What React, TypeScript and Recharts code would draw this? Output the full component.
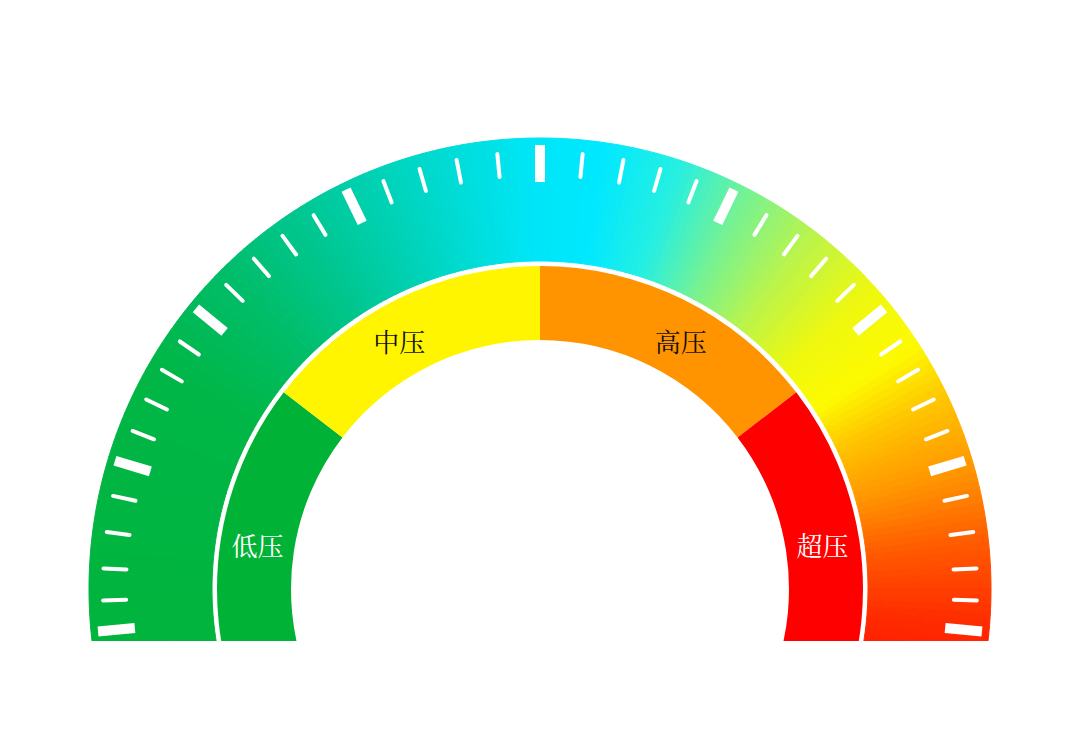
import { PieChart, Pie, Cell, RadialBarChart, RadialBar, PolarAngleAxis } from 'recharts';

const W = 1080;
const H = 750;
const CX = 540;
const CY = 589;
const CLIP_Y = 641; // the gauge is cut flat a little below its centre

// outer ring colour stops (degrees, 0 = 3 o'clock, counter-clockwise)
const stopAngles = [200, 150, 135, 120, 105, 92, 82, 72, 62, 52, 42, 33, 25, 15, 5, -5, -20];
const stopColors = [
  '#00b33a', '#00b646', '#00bd68', '#00c99a', '#00d8cc', '#00e5f5', '#00e8ff', '#25efe2',
  '#78f290', '#bdf448', '#eef80e', '#fdfa00', '#ffc400', '#ff9200', '#ff5500', '#ff2a00', '#ff0a00',
];

// inner ring zones, spans in degrees starting from 200°
const zoneNames = ['低压', '中压', '高压', '超压'];
const zoneSpans = [57.5, 52.5, 52.5, 57.5];
const zoneColors = ['#00b336', '#fff500', '#ff9400', '#ff0000'];
const zoneTextColors = ['#ffffff', '#111111', '#111111', '#ffffff'];
const zoneLabelAngles = [171, 119.5, 60.5, 9];

const majorTicks = [185.5, 163.2, 140.8, 115.9, 90, 64.1, 39.2, 16.8, -5.5];
const minorTicks = [
  181.5, 177.3, 172.5, 167.7, 158.8, 154.3, 149.9, 145.5, 135.9, 130.9, 126.1, 121.2,
  111, 106, 101, 95.6, 84.4, 79, 74, 69, 58.8, 53.9, 49.1, 44.1,
  34.5, 30.1, 25.7, 21.2, 12.3, 7.5, 2.7, -1.5,
];
const allTicks = [...majorTicks, ...minorTicks];

const hex = (c: string) => [1, 3, 5].map((i) => parseInt(c.slice(i, i + 2), 16));
const colorAt = (a: number) => {
  let i = 0;
  while (i < stopAngles.length - 2 && a < stopAngles[i + 1]) i++;
  const t = (stopAngles[i] - a) / (stopAngles[i] - stopAngles[i + 1]);
  const c0 = hex(stopColors[i]);
  const c1 = hex(stopColors[i + 1]);
  const m = c0.map((v, k) => Math.round(v + (c1[k] - v) * t));
  return `rgb(${m[0]},${m[1]},${m[2]})`;
};

// thin slices that paint the angular gradient of the outer ring
const STEP = 1;
const ringSlices = Array.from({ length: (200 + 20) / STEP }, (_, i) => ({
  span: STEP,
  color: colorAt(200 - STEP * i - STEP / 2),
}));

const zones = zoneNames.map((name, i) => ({ name, span: zoneSpans[i] }));

const RAD = Math.PI / 180;

const renderZoneLabel = (p: any) => {
  const a = zoneLabelAngles[p.index] * RAD;
  const r = (p.innerRadius + p.outerRadius) / 2;
  return (
    <text
      x={p.cx + r * Math.cos(a)}
      y={p.cy - r * Math.sin(a)}
      fill={zoneTextColors[p.index]}
      fontSize={26}
      fontFamily='"Noto Serif CJK SC", "Noto Sans CJK SC", serif'
      textAnchor="middle"
      dominantBaseline="central"
    >
      {zoneNames[p.index]}
    </text>
  );
};

const renderTick = (p: any) => {
  const v = p.payload?.value;
  const ang = (p.payload?.coordinate ?? v) * RAD;
  const major = majorTicks.includes(v);
  const r0 = major ? 407 : 414;
  const r1 = major ? 444 : 437;
  return (
    <line
      x1={CX + r0 * Math.cos(ang)}
      y1={CY - r0 * Math.sin(ang)}
      x2={CX + r1 * Math.cos(ang)}
      y2={CY - r1 * Math.sin(ang)}
      stroke="#ffffff"
      strokeWidth={major ? 10 : 4}
      strokeLinecap={major ? 'butt' : 'round'}
    />
  );
};

const noMargin = { top: 0, right: 0, bottom: 0, left: 0 };

export default function App() {
  return (
    <div style={{ margin: -8, width: W, height: H, background: '#fff', position: 'relative', overflow: 'hidden' }}>
      <div style={{ position: 'absolute', left: 0, top: 0, width: W, height: CLIP_Y, overflow: 'hidden' }}>
        <div style={{ position: 'absolute', left: 0, top: 0 }}>
          <PieChart width={W} height={H} margin={noMargin}>
            <Pie
              data={ringSlices}
              dataKey="span"
              cx={CX}
              cy={CY}
              innerRadius={328}
              outerRadius={451}
              startAngle={200}
              endAngle={-20}
              stroke="none"
              isAnimationActive={false}
            >
              {ringSlices.map((s, i) => (
                <Cell key={i} fill={s.color} stroke={s.color} strokeWidth={1} />
              ))}
            </Pie>
            <Pie
              data={zones}
              dataKey="span"
              cx={CX}
              cy={CY}
              innerRadius={249}
              outerRadius={323}
              startAngle={200}
              endAngle={-20}
              stroke="none"
              label={renderZoneLabel}
              labelLine={false}
              isAnimationActive={false}
            >
              {zones.map((z, i) => (
                <Cell key={z.name} fill={zoneColors[i]} />
              ))}
            </Pie>
          </PieChart>
        </div>
        <div style={{ position: 'absolute', left: 0, top: 0 }}>
          <RadialBarChart
            width={W}
            height={H}
            cx={CX}
            cy={CY}
            innerRadius={400}
            outerRadius={430}
            startAngle={-20}
            endAngle={200}
            data={[{ name: 'g', v: 0 }]}
            margin={noMargin}
          >
            <PolarAngleAxis
              type="number"
              domain={[-20, 200]}
              ticks={allTicks}
              tick={renderTick}
              tickLine={false}
              axisLine={false}
            />
            <RadialBar dataKey="v" fill="none" isAnimationActive={false} />
          </RadialBarChart>
        </div>
      </div>
    </div>
  );
}
